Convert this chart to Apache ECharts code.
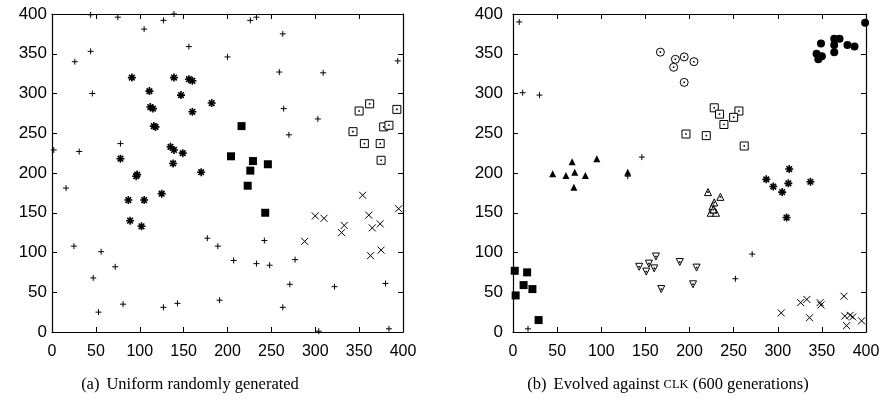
<!DOCTYPE html>
<html>
<head>
<meta charset="utf-8">
<script src="https://cdn.jsdelivr.net/npm/echarts@6/dist/echarts.min.js"></script>
<style>
html,body{margin:0;padding:0;background:#fff;}
#c{width:886px;height:408px;}
</style>
</head>
<body>
<div id="c"></div>
<script>
// ---- tick values (both panels) ----
const ticks = [0, 50, 100, 150, 200, 250, 300, 350, 400];

// ---- captions ----
const captionA = ['(a)', 'Uniform randomly generated'];
const captionB = ['(b)', 'Evolved against ', 'CLK', ' (600 generations)'];

// ---- panel (a): uniform randomly generated ----
const plusA = [[44,399],[75,396],[105,381],[127,392],[139,400],[156,359],[26,340],[44,353],[46,300],[2,229],[31,227],[78,237],[226,392],[233,396],[263,375],[200,346],[259,327],[309,326],[394,341],[264,281],[303,268],[270,248],[16,181],[25,108],[56,101],[47,68],[72,82],[53,25],[81,35],[127,31],[143,36],[177,118],[189,108],[207,90],[191,40],[242,115],[233,86],[248,84],[277,91],[271,60],[263,31],[322,57],[380,61],[304,1],[384,4]];
const starA = [[91,320],[111,303],[112,283],[115,281],[116,259],[118,258],[139,320],[156,318],[160,316],[147,298],[160,277],[182,288],[78,218],[135,233],[139,229],[149,225],[138,212],[96,196],[97,198],[170,201],[87,166],[105,166],[125,174],[89,140],[102,133]];
const squareFillA = [[216,259],[204,221],[229,215],[246,211],[226,203],[223,184],[243,150]];
const squareOpenA = [[350,278],[362,287],[393,280],[343,252],[378,258],[384,260],[356,237],[374,237],[375,216]];
const crossA = [[288,114],[300,146],[310,143],[333,134],[330,125],[354,172],[361,147],[365,131],[374,136],[363,96],[375,103],[395,155]];

// ---- panel (b): evolved against CLK ----
const plusB = [[7,390],[11,301],[30,298],[146,220],[130,196],[17,4],[271,98],[252,67]];
const triFillB = [[45,199],[60,197],[67,214],[70,201],[82,197],[95,218],[130,201],[69,182]];
const squareFillB = [[2,77],[16,75],[12,59],[22,54],[3,46],[29,15]];
const triDownB = [[143,82],[151,76],[154,86],[160,80],[162,95],[168,54],[189,88],[208,81],[204,60]];
const triOpenB = [[221,176],[235,170],[228,163],[226,158],[224,150],[230,150],[227,154]];
const starB = [[287,192],[295,183],[312,187],[305,176],[337,189],[310,144],[313,205]];
const crossB = [[304,24],[326,37],[333,41],[336,18],[348,37],[349,34],[375,45],[376,20],[378,8],[382,21],[385,19],[395,14]];
const circleOpenB = [[167,352],[184,343],[194,346],[182,333],[205,340],[194,314]];
const squareOpenB = [[228,282],[234,274],[256,278],[250,270],[239,261],[196,249],[219,247],[262,234]];
const circleFillB = [[399,389],[349,363],[364,369],[370,369],[364,361],[379,361],[387,359],[364,352],[344,350],[350,347],[346,343]];

// ---- styling ----
const INK = '#000';
const PLUS = 'path://M0,5L10,5M5,0L5,10';
const CROSS = 'path://M0,0L10,10M10,0L0,10';
const STAR = 'path://M0,5L10,5M5,0L5,10M1.5,1.5L8.5,8.5M8.5,1.5L1.5,8.5';

function axis(grid, pos, showLabel, margin, size) {
  return {
    type: 'value', gridIndex: grid, position: pos,
    min: ticks[0], max: ticks[ticks.length - 1], interval: ticks[1] - ticks[0],
    axisLine: { show: true, onZero: false, lineStyle: { color: INK, width: 1.2 } },
    axisTick: { show: true, inside: true, length: 5, lineStyle: { color: INK, width: 1 } },
    axisLabel: { show: showLabel, color: INK, fontFamily: 'Liberation Sans', fontSize: size || 16, margin: margin },
    splitLine: { show: false }
  };
}

function stroked(name, data, g, sym, size, w) {
  return { type: 'scatter', name, data, xAxisIndex: g * 2, yAxisIndex: g * 2, symbol: sym, symbolSize: size,
    itemStyle: { color: INK, borderColor: INK, borderWidth: w, opacity: 1 }, silent: true, z: 3 };
}
function filled(name, data, g, sym, size, rot) {
  return { type: 'scatter', name, data, xAxisIndex: g * 2, yAxisIndex: g * 2, symbol: sym, symbolSize: size,
    symbolRotate: rot || 0, itemStyle: { color: INK, opacity: 1 }, silent: true, z: 3 };
}
function open(name, data, g, sym, size, rot) {
  return [
    { type: 'scatter', name, data, xAxisIndex: g * 2, yAxisIndex: g * 2, symbol: sym, symbolSize: size,
      symbolRotate: rot || 0, itemStyle: { color: '#fff', borderColor: INK, borderWidth: 1, opacity: 1 }, silent: true, z: 3 },
    { type: 'scatter', name: name + ' dot', data, xAxisIndex: g * 2, yAxisIndex: g * 2, symbol: 'rect', symbolSize: 1.6,
      itemStyle: { color: INK, opacity: 1 }, silent: true, z: 4 }
  ];
}

const capRich = {
  n: { fontFamily: 'Liberation Serif', fontSize: 16.5, color: INK },
  g: { fontFamily: 'Liberation Serif', fontSize: 16.5, color: INK, padding: [0, 0, 0, 7] },
  s: { fontFamily: 'Liberation Serif', fontSize: 12.5, color: INK }
};

const option = {
  animation: false,
  backgroundColor: '#fff',
  grid: [
    { left: 52, top: 14, width: 351, height: 318 },
    { left: 513, top: 14, width: 353, height: 318 }
  ],
  xAxis: [
    axis(0, 'bottom', true, 12), axis(0, 'top', false, 8),
    axis(1, 'bottom', true, 12), axis(1, 'top', false, 8)
  ],
  yAxis: [
    axis(0, 'left', true, 5, 17), axis(0, 'right', false, 8),
    axis(1, 'left', true, 10, 17), axis(1, 'right', false, 8)
  ],
  series: [
    stroked('plusA', plusA, 0, PLUS, 6, 1),
    stroked('starA', starA, 0, STAR, 8, 1.6),
    filled('squareFillA', squareFillA, 0, 'rect', 8),
    ...open('squareOpenA', squareOpenA, 0, 'rect', 8),
    stroked('crossA', crossA, 0, CROSS, 7, 1),

    stroked('plusB', plusB, 1, PLUS, 6, 1),
    filled('triFillB', triFillB, 1, 'triangle', 7),
    filled('squareFillB', squareFillB, 1, 'rect', 8),
    ...open('triDownB', triDownB, 1, 'triangle', 7, 180),
    ...open('triOpenB', triOpenB, 1, 'triangle', 7),
    stroked('starB', starB, 1, STAR, 8, 1.6),
    stroked('crossB', crossB, 1, CROSS, 7, 1),
    ...open('circleOpenB', circleOpenB, 1, 'circle', 8),
    ...open('squareOpenB', squareOpenB, 1, 'rect', 8),
    filled('circleFillB', circleFillB, 1, 'circle', 8)
  ],
  graphic: [
    { type: 'text', x: 190, y: 385, silent: true,
      style: { text: '{n|' + captionA[0] + '}{g|' + captionA[1] + '}', rich: capRich, align: 'center', verticalAlign: 'middle' } },
    { type: 'text', x: 668, y: 385, silent: true,
      style: { text: '{n|' + captionB[0] + '}{g|' + captionB[1] + '}{s|' + captionB[2] + '}{n|' + captionB[3] + '}', rich: capRich, align: 'center', verticalAlign: 'middle' } }
  ]
};

const chart = echarts.init(document.getElementById('c'), null, { renderer: 'canvas' });
chart.setOption(option);
</script>
</body>
</html>
